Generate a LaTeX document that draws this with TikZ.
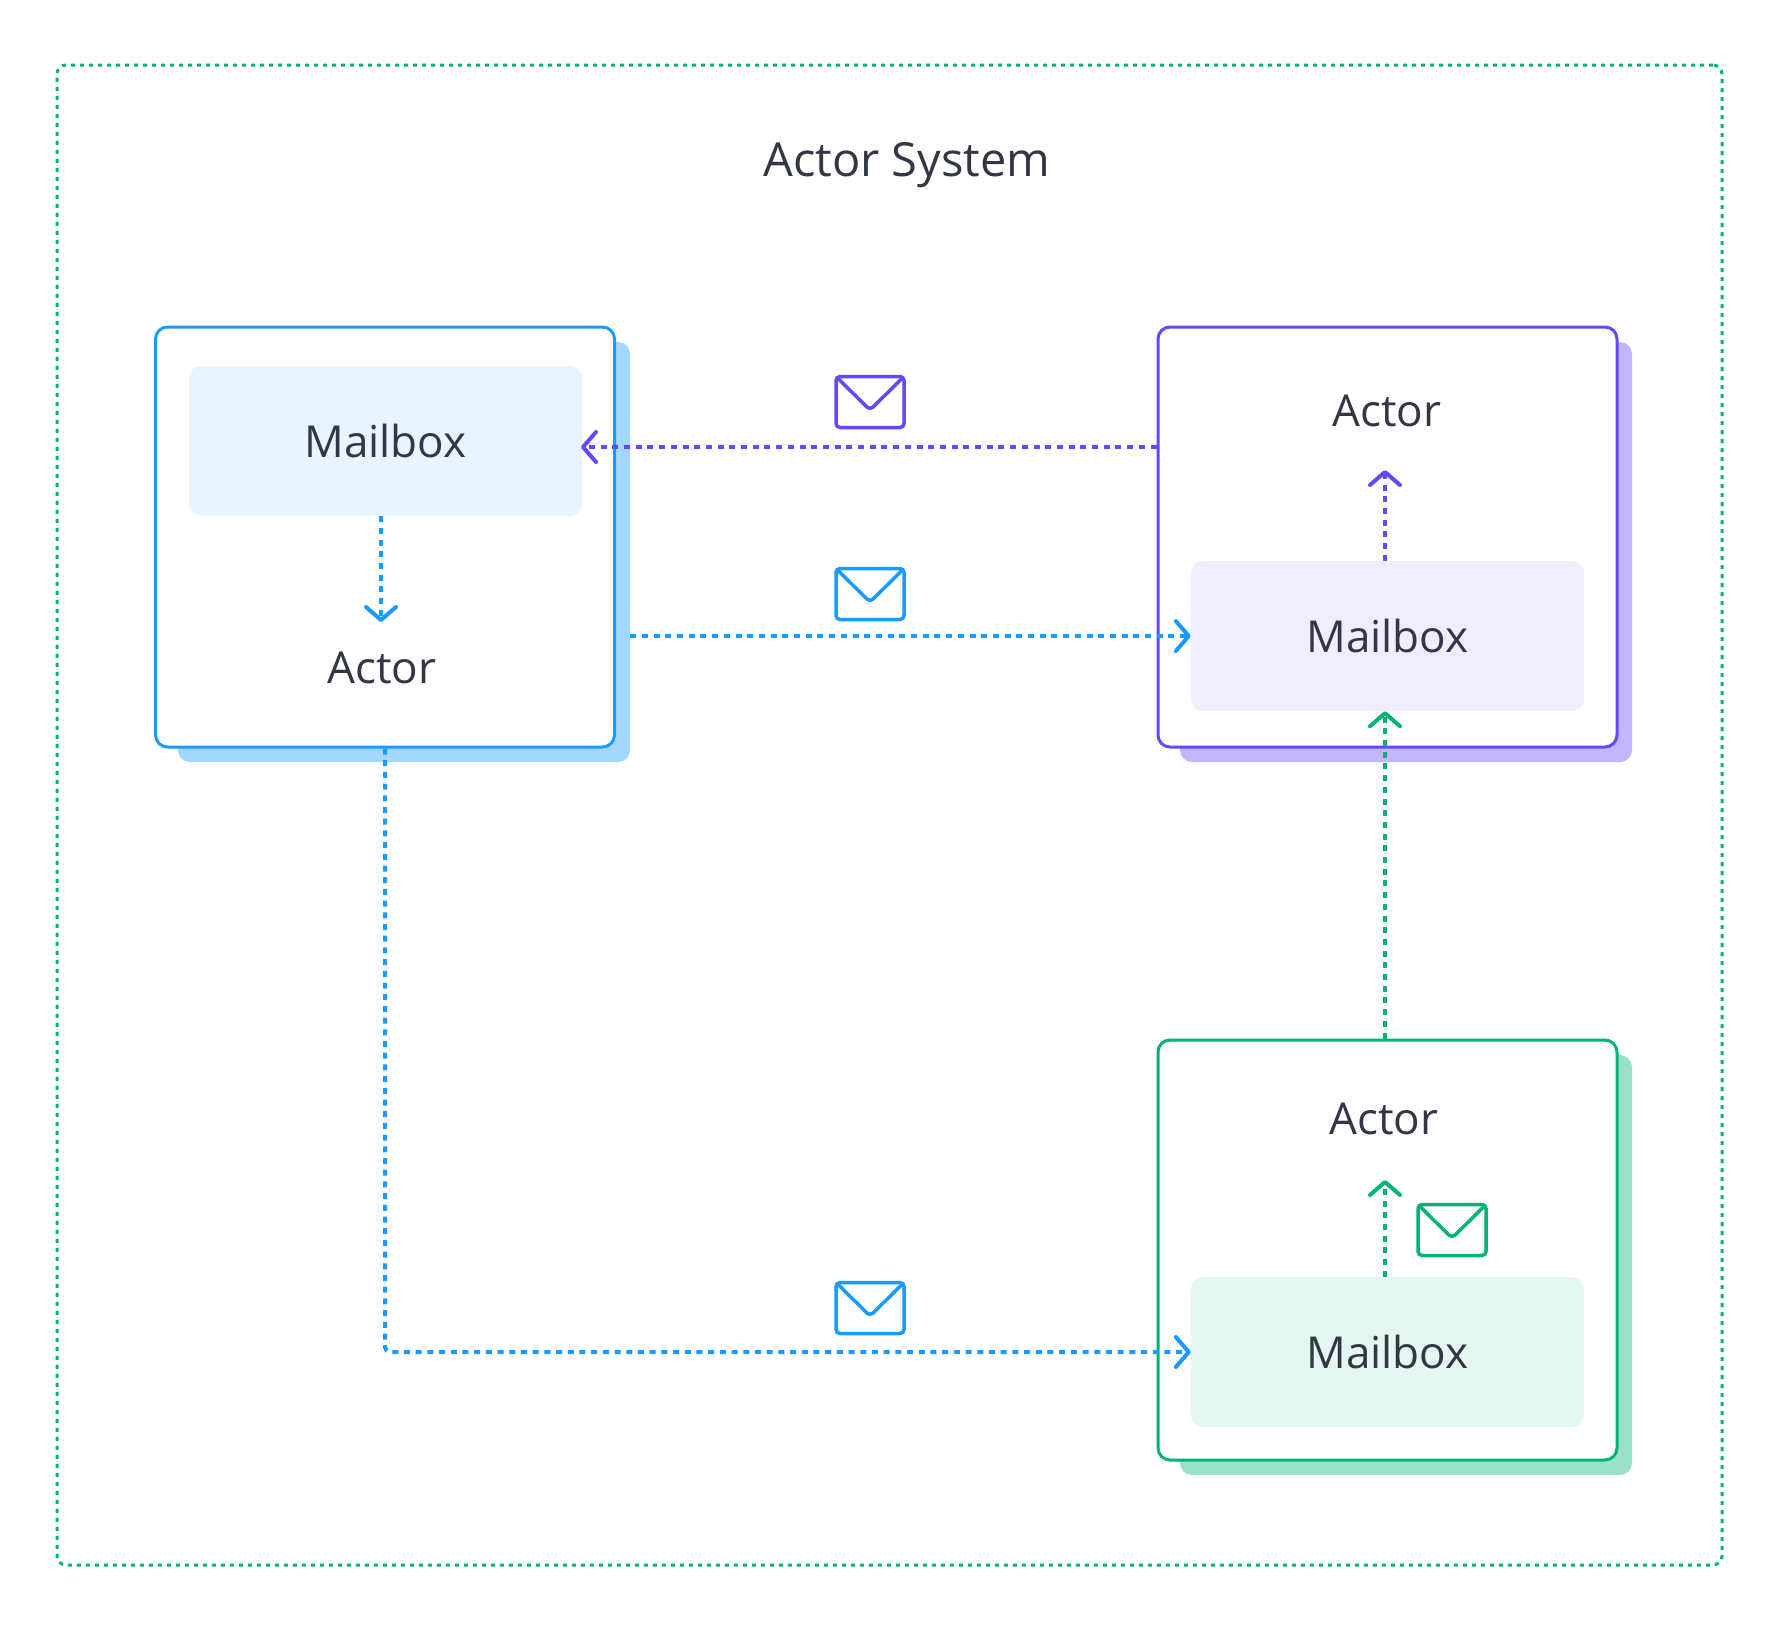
\documentclass[tikz,border=0pt]{standalone}
\usepackage{fontspec}
\setmainfont{Open Sans}
\usetikzlibrary{arrows.meta}
\definecolor{inkgray}{HTML}{333644}
\definecolor{msgblue}{HTML}{1A9BFF}
\definecolor{msgpurple}{HTML}{6548FA}
\definecolor{msggreen}{HTML}{00B377}
\tikzset{
  frame/.style={
    rectangle,
    rounded corners=9pt,
    draw=msggreen,
    line width=3pt,
    dash pattern=on 4pt off 5pt,
    minimum width=1665pt,
    minimum height=1500pt,
  },
  actorbox/.style={
    rectangle,
    rounded corners=12pt,
    fill=white,
    line width=3pt,
    minimum width=459pt,
    minimum height=420pt,
  },
  backbox/.style={
    rectangle,
    rounded corners=12pt,
    minimum width=452pt,
    minimum height=420pt,
  },
  mailbox/.style={
    rectangle,
    rounded corners=12pt,
    minimum width=393pt,
    minimum height=150pt,
    text=inkgray,
    font=\fontsize{44}{50}\selectfont,
  },
  caption/.style={
    text=inkgray,
    inner sep=0pt,
    font=\fontsize{44}{50}\selectfont,
  },
  envelope/.style={
    rectangle,
    rounded corners=4pt,
    draw=#1,
    line width=3.5pt,
    fill=white,
    minimum width=68pt,
    minimum height=51pt,
    path picture={
      \draw[#1, line width=3.5pt, line join=round]
        (path picture bounding box.north west)
        -- ([yshift=-8pt]path picture bounding box.center)
        -- (path picture bounding box.north east);
    },
  },
  msg/.style={
    line width=4pt,
    dash pattern=on 6pt off 5.7pt,
    -{Straight Barb[length=13pt,width=30pt,line width=4pt,round]},
  },
}

\begin{document}
\begin{tikzpicture}[x=1pt,y=-1pt]
  \useasboundingbox (0,0) rectangle (1785,1626);

  \node[frame] (system) at (889.5,815) {};
  \node[caption, font=\fontsize{47}{50}\selectfont] (title) at (907,165) {Actor System};

  % left actor
  \node[backbox, fill=msgblue!40] (backA) at (404,552) {};
  \node[actorbox, draw=msgblue] (boxA) at (385,537) {};
  \node[mailbox, fill=msgblue!10] (mbA) at (385.5,441) {Mailbox};
  \node[caption] (actorA) at (382,668) {Actor};

  % right actor
  \node[backbox, fill=msgpurple!40] (backP) at (1406,552) {};
  \node[actorbox, draw=msgpurple] (boxP) at (1387.5,537) {};
  \node[mailbox, fill=msgpurple!10] (mbP) at (1387.5,636) {Mailbox};
  \node[caption] (actorP) at (1387,411) {Actor};

  % bottom actor
  \node[backbox, fill=msggreen!40] (backG) at (1406,1265) {};
  \node[actorbox, draw=msggreen] (boxG) at (1387.5,1250) {};
  \node[mailbox, fill=msggreen!10] (mbG) at (1387.5,1352) {Mailbox};
  \node[caption] (actorG) at (1384,1119) {Actor};

  \coordinate (tipA) at (381,622);
  \coordinate (tipPA) at (581,447);
  \coordinate (tipP) at (1385,470);
  \coordinate (tipG) at (1385,1180);

  % messages
  \draw[msg, msgblue] (mbA.south -| tipA) -- (tipA);
  \draw[msg, msgpurple] (boxP.west |- tipPA) -- (tipPA);
  \draw[msg, msgblue] (backA.east |- mbP.west) -- (mbP.west);
  \draw[msg, msgblue, rounded corners=5pt] (boxA.south) |- (mbG.west);
  \draw[msg, msgpurple] (mbP.north -| tipP) -- (tipP);
  \draw[msg, msggreen] (boxG.north -| tipP) -- (mbP.south -| tipP);
  \draw[msg, msggreen] (mbG.north -| tipG) -- (tipG);

  \node[envelope=msgpurple] (mailPA) at (870,402) {};
  \node[envelope=msgblue] (mailAP) at (870,594) {};
  \node[envelope=msgblue] (mailAG) at (870,1308) {};
  \node[envelope=msggreen] (mailG) at (1452,1230) {};
\end{tikzpicture}
\end{document}
